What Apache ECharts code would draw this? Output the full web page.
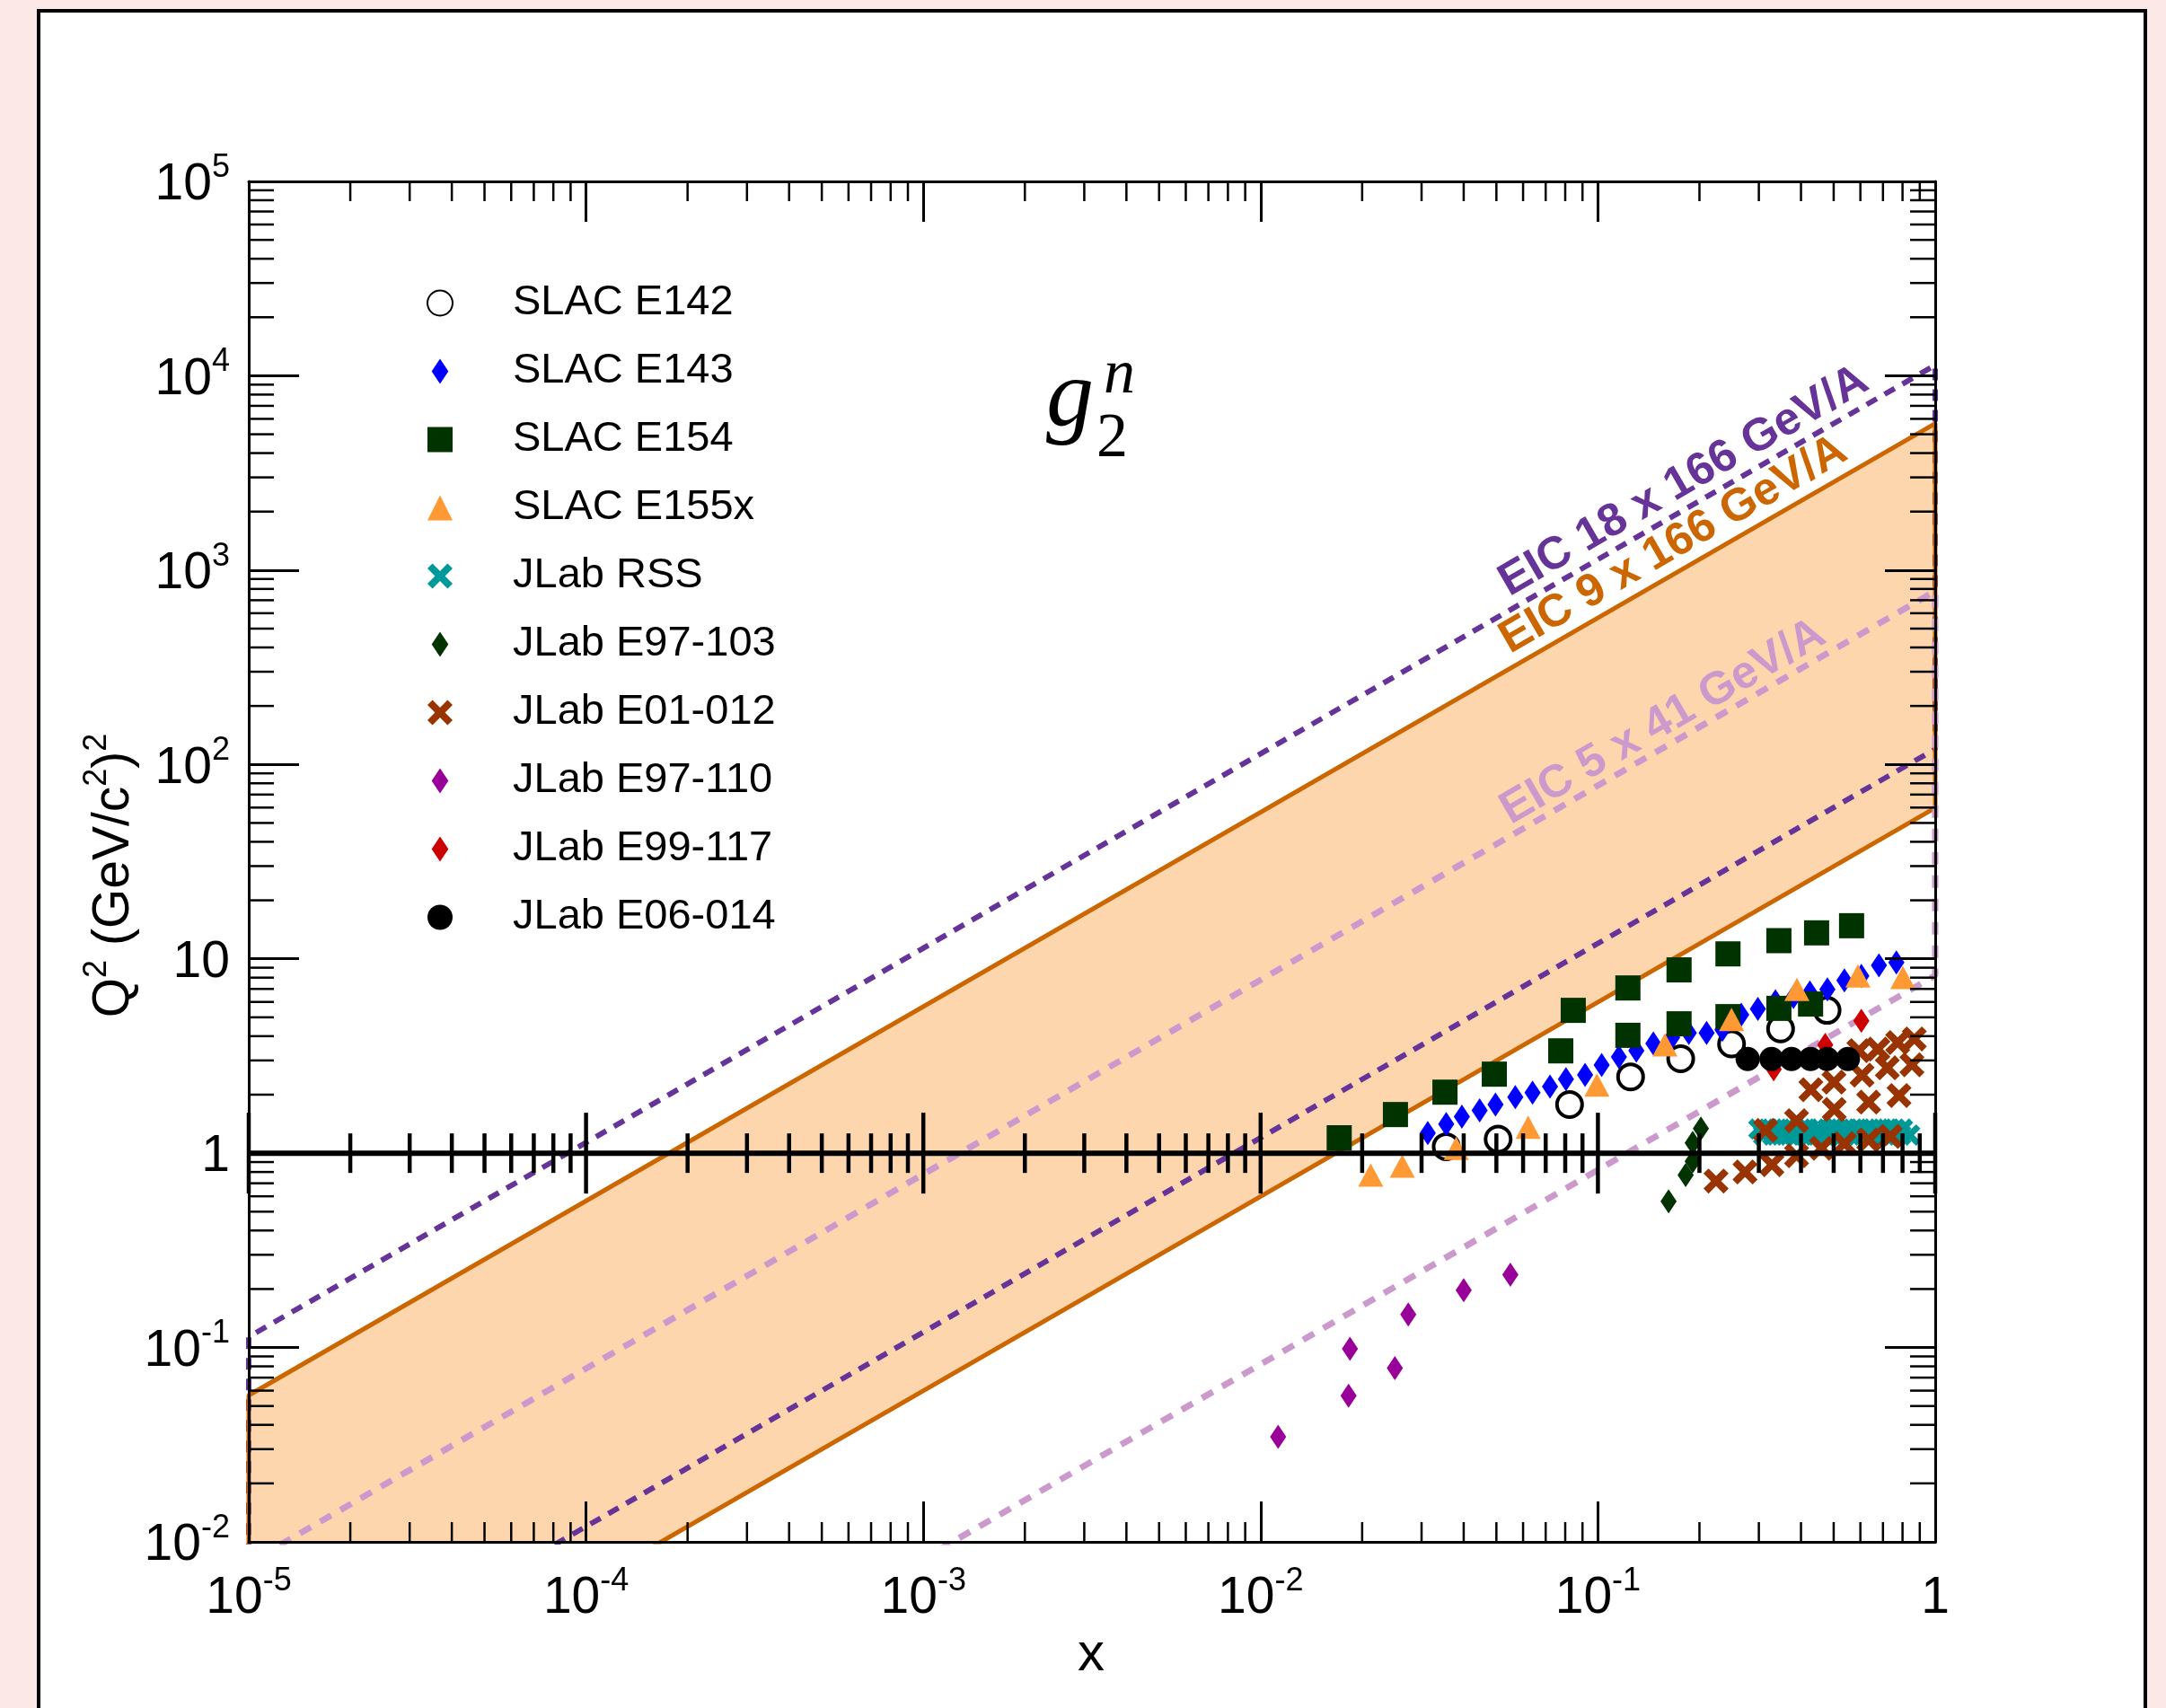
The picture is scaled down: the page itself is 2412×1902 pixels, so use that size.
<!DOCTYPE html>
<html>
<head>
<meta charset="utf-8">
<title>g2n world data vs EIC reach</title>
<script src="https://cdn.jsdelivr.net/npm/echarts@6/dist/echarts.min.js"></script>
<style>
  html, body { margin: 0; padding: 0; background: #fde8e8; }
  #chart { width: 2412px; height: 1902px; }
</style>
</head>
<body>
<div id="chart"></div>
<script>
// decade exponents for the tick labels
const xTickExps = [-5, -4, -3, -2, -1, 0];
const yTickExps = [-2, -1, 0, 1, 2, 3, 4, 5];
const minorMult = [2, 3, 4, 5, 6, 7, 8, 9];

// EIC kinematic reach, Q2 at x = 1e-5 and x = 1 (upper and lower edge)
const eicEdgeX = [1e-5, 1];
const eic18Hi = [0.1135, 11350];
const eic18Lo = [0.0012, 120];
const eic9Hi = [0.0568, 5680];
const eic9Lo = [0.0006, 59.8];
const eic5Hi = [0.0078, 779];
const eic5Lo = [0.000082, 8.2];
// where the rotated labels sit
const eicLabelX = [0.1797, 0.1675, 0.1560];
const eicLabelQ2 = [2861, 1345, 165];

// data sets
const e142X = [0.0355, 0.0506, 0.0824, 0.125, 0.176, 0.249, 0.348, 0.478];
const e142Q2 = [1.08, 1.18, 1.78, 2.47, 3.06, 3.65, 4.36, 5.43];

const e143X = [0.0313, 0.0355, 0.0395, 0.0446, 0.0497, 0.0569, 0.0640, 0.0721, 0.0804, 0.0916,
  0.1026, 0.1154, 0.130, 0.146, 0.166, 0.186, 0.210, 0.234, 0.266, 0.298,
  0.336, 0.380, 0.425, 0.479, 0.538, 0.604, 0.681, 0.767];
const e143Q2 = [1.27, 1.41, 1.54, 1.66, 1.78, 1.94, 2.05, 2.20, 2.40, 2.53,
  2.84, 3.13, 3.37, 3.67, 3.94, 4.16, 4.16, 4.31, 5.15, 5.53,
  6.04, 6.36, 6.71, 6.96, 7.75, 8.17, 9.25, 9.57];

const e154X = [0.0171, 0.0251, 0.0352, 0.0493, 0.0776, 0.0845, 0.1227, 0.1227, 0.174, 0.174,
  0.243, 0.243, 0.344, 0.344, 0.427, 0.445, 0.565];
const e154Q2 = [1.20, 1.58, 2.06, 2.55, 3.36, 5.43, 7.08, 4.04, 8.77, 4.63,
  10.6, 5.04, 12.4, 5.56, 5.85, 13.6, 14.8];

const e155xX = [0.0212, 0.0263, 0.038, 0.0621, 0.0993, 0.158, 0.249, 0.389, 0.590, 0.802];
const e155xQ2 = [0.772, 0.859, 1.06, 1.36, 2.24, 3.61, 4.88, 6.96, 8.17, 8.02];

const rssX = [0.30, 0.32, 0.34, 0.36, 0.38, 0.40, 0.42, 0.45, 0.48, 0.51, 0.54, 0.57, 0.60, 0.64, 0.68, 0.72, 0.76, 0.80,
  0.31, 0.33, 0.35, 0.37, 0.39, 0.41, 0.44, 0.47, 0.50, 0.53, 0.56, 0.59, 0.63, 0.67, 0.71, 0.75, 0.79, 0.84];
const rssQ2 = [1.33, 1.33, 1.33, 1.33, 1.33, 1.33, 1.33, 1.33, 1.33, 1.33, 1.33, 1.33, 1.33, 1.33, 1.33, 1.33, 1.33, 1.33,
  1.24, 1.24, 1.24, 1.24, 1.24, 1.24, 1.24, 1.24, 1.24, 1.24, 1.24, 1.24, 1.24, 1.24, 1.24, 1.24, 1.24, 1.24];

const e97103X = [0.202, 0.191, 0.191, 0.182, 0.162];
const e97103Q2 = [1.34, 1.13, 0.908, 0.772, 0.566];

const e01012X = [0.224, 0.273, 0.314, 0.328, 0.388, 0.388, 0.428, 0.460, 0.501, 0.502, 0.538,
  0.594, 0.607, 0.635, 0.635, 0.676, 0.721, 0.736, 0.774, 0.781, 0.853, 0.867];
const e01012Q2 = [0.719, 0.80, 1.31, 0.873, 1.47, 0.97, 2.12, 1.06, 2.32, 1.68, 1.12,
  3.37, 2.52, 1.83, 1.17, 3.43, 2.75, 1.22, 3.71, 1.98, 2.85, 3.87];

const e97110X = [0.01127, 0.01823, 0.0184, 0.0250, 0.0274, 0.040, 0.055];
const e97110Q2 = [0.0347, 0.0565, 0.0986, 0.0783, 0.148, 0.197, 0.237];

const e99117X = [0.604, 0.472, 0.332];
const e99117Q2 = [4.80, 3.61, 2.70];

const e06014X = [0.278, 0.327, 0.375, 0.427, 0.478, 0.551];
const e06014Q2 = [3.05, 3.05, 3.05, 3.05, 3.05, 3.05];

const FONT = '"Liberation Sans", Arial, Helvetica, sans-serif';
const SERIF = '"Liberation Serif", "Times New Roman", serif';
const CROSS = 'path://M0,2L2,0L5,3L8,0L10,2L7,5L10,8L8,10L5,7L2,10L0,8L3,5Z';
const DIAMOND = 'path://M5,0L10,7.5L5,15L0,7.5Z';

const chart = echarts.init(document.getElementById('chart'));

const pairs = (xs, ys) => xs.map((x, i) => [x, ys[i]]);
const outline = (hi, lo) => [
  [eicEdgeX[0], lo[0]], [eicEdgeX[0], hi[0]], [eicEdgeX[1], hi[1]], [eicEdgeX[1], lo[1]], [eicEdgeX[0], lo[0]]
];

const labelRich = {
  b: { fontFamily: FONT, fontSize: 57, lineHeight: 66, verticalAlign: 'bottom', color: '#000' },
  s: { fontFamily: FONT, fontSize: 36, lineHeight: 36, verticalAlign: 'top', color: '#000' }
};

function powerLabel(v, allowTen) {
  const e = Math.round(Math.log10(v));
  if (e === 0) return '{b|1}';
  if (e === 1 && allowTen) return '{b|10}';
  return '{b|10}{s|' + e + '}';
}

const markers = [
  { name: 'SLAC E142', xs: e142X, ys: e142Q2, symbol: 'circle', size: 28,
    style: { color: 'rgba(0,0,0,0)', borderColor: '#000', borderWidth: 4 } },
  { name: 'SLAC E143', xs: e143X, ys: e143Q2, symbol: DIAMOND, size: [18, 27], style: { color: '#0000ff' } },
  { name: 'SLAC E154', xs: e154X, ys: e154Q2, symbol: 'rect', size: 28, style: { color: '#003300' } },
  { name: 'SLAC E155x', xs: e155xX, ys: e155xQ2, symbol: 'triangle', size: [28, 26], style: { color: '#ff9933' } },
  { name: 'JLab RSS', xs: rssX, ys: rssQ2, symbol: CROSS, size: 24, style: { color: '#009999' } },
  { name: 'JLab E97-103', xs: e97103X, ys: e97103Q2, symbol: DIAMOND, size: [18, 27], style: { color: '#003300' } },
  { name: 'JLab E01-012', xs: e01012X, ys: e01012Q2, symbol: CROSS, size: 28, style: { color: '#993300' } },
  { name: 'JLab E97-110', xs: e97110X, ys: e97110Q2, symbol: DIAMOND, size: [18, 27], style: { color: '#990099' } },
  { name: 'JLab E99-117', xs: e99117X, ys: e99117Q2, symbol: DIAMOND, size: [18, 27], style: { color: '#cc0000' } },
  { name: 'JLab E06-014', xs: e06014X, ys: e06014Q2, symbol: 'circle', size: 27, style: { color: '#000' } }
];

const eicLines = [
  { name: 'EIC 18 x 166 GeV/A', hi: eic18Hi, lo: eic18Lo, color: '#663399', type: [13, 10], width: 6 },
  { name: 'EIC 9 x 166 GeV/A', hi: eic9Hi, lo: eic9Lo, color: '#cc6600', type: 'solid', width: 5 },
  { name: 'EIC 5 x 41 GeV/A', hi: eic5Hi, lo: eic5Lo, color: '#cc99cc', type: [14, 12], width: 7 }
];

const series = [];

// shaded reach of the 9 x 166 configuration
series.push({
  type: 'custom',
  name: 'band',
  coordinateSystem: 'cartesian2d',
  clip: true,
  silent: true,
  z: 1,
  data: [[eicEdgeX[0], 1]],
  renderItem: (params, api) => {
    const pts = outline(eic9Hi, eic9Lo).slice(0, 4).map(p => api.coord(p));
    return { type: 'polygon', shape: { points: pts }, style: { fill: '#fed6ad' } };
  }
});

eicLines.forEach((l, i) => {
  series.push({
    type: 'line',
    name: l.name,
    data: outline(l.hi, l.lo),
    symbol: 'none',
    silent: true,
    z: 2,
    lineStyle: { color: l.color, width: l.width, type: l.type, opacity: 1 },
    markPoint: {
      symbol: 'circle',
      symbolSize: 0,
      silent: true,
      data: [{ coord: [eicLabelX[i], eicLabelQ2[i]] }],
      label: {
        show: true,
        position: 'inside',
        formatter: l.name,
        rotate: 30,
        color: l.color,
        fontFamily: FONT,
        fontWeight: 'bold',
        fontSize: 51
      }
    }
  });
});

markers.forEach(m => {
  series.push({
    type: 'scatter',
    name: m.name,
    data: pairs(m.xs, m.ys),
    symbol: m.symbol,
    symbolSize: m.size,
    itemStyle: Object.assign({ opacity: 1 }, m.style),
    z: 3,
    emphasis: { disabled: true }
  });
});

// minor ticks on the frame plus the x axis drawn at Q2 = 1
series.push({
  type: 'custom',
  name: 'ticks',
  coordinateSystem: 'cartesian2d',
  clip: false,
  silent: true,
  z: 6,
  data: [[eicEdgeX[0], 1]],
  renderItem: (params, api) => {
    const cs = params.coordSys;
    const left = cs.x, right = cs.x + cs.width, top = cs.y, bottom = cs.y + cs.height;
    const kids = [];
    const thin = { stroke: '#000', lineWidth: 2.5 };
    const thick = { stroke: '#000', lineWidth: 4.5 };
    const yOne = api.coord([1, 1])[1];
    xTickExps.forEach(e => {
      const base = Math.pow(10, e);
      const px0 = api.coord([base, 1])[0];
      kids.push({ type: 'line', shape: { x1: px0, y1: yOne - 45, x2: px0, y2: yOne + 45 }, style: thick });
      if (e === 0) return;
      minorMult.forEach(k => {
        const px = api.coord([k * base, 1])[0];
        kids.push({ type: 'line', shape: { x1: px, y1: bottom, x2: px, y2: bottom - 22 }, style: thin });
        kids.push({ type: 'line', shape: { x1: px, y1: top, x2: px, y2: top + 22 }, style: thin });
        kids.push({ type: 'line', shape: { x1: px, y1: yOne - 22, x2: px, y2: yOne + 22 }, style: thick });
      });
    });
    yTickExps.forEach(e => {
      if (e === 5) return;
      const base = Math.pow(10, e);
      minorMult.forEach(k => {
        const py = api.coord([1, k * base])[1];
        kids.push({ type: 'line', shape: { x1: left, y1: py, x2: left + 28, y2: py }, style: thin });
        kids.push({ type: 'line', shape: { x1: right, y1: py, x2: right - 28, y2: py }, style: thin });
      });
    });
    kids.push({ type: 'line', shape: { x1: left, y1: yOne, x2: right, y2: yOne }, style: { stroke: '#000', lineWidth: 6 } });
    return { type: 'group', children: kids };
  }
});

const axisCommon = {
  type: 'log',
  logBase: 10,
  z: 5,
  axisLine: { show: true, onZero: false, lineStyle: { color: '#000', width: 3 } },
  minorTick: { show: false },
  splitLine: { show: false },
  minorSplitLine: { show: false }
};

const option = {
  animation: false,
  textStyle: { fontFamily: FONT },
  graphic: [
    { type: 'rect', z: -10, silent: true,
      shape: { x: 43, y: 12, width: 2346, height: 1930 },
      style: { fill: '#fff', stroke: '#000', lineWidth: 4 } },
    { type: 'text', z: 10, x: 1165, y: 445, silent: true,
      style: { text: 'g', font: 'italic 106px ' + SERIF, fill: '#000', verticalAlign: 'middle' } },
    { type: 'text', z: 10, x: 1221, y: 490, silent: true,
      style: { text: '2', font: '70px ' + SERIF, fill: '#000', verticalAlign: 'middle' } },
    { type: 'text', z: 10, x: 1229, y: 419, silent: true,
      style: { text: 'n', font: 'italic 70px ' + SERIF, fill: '#000', verticalAlign: 'middle' } },
    { type: 'text', z: 10, x: 123, y: 975, rotation: Math.PI / 2, silent: true,
      style: {
        text: '{a|Q}{s|2}{a| (GeV/c}{s|2}{a|)}{s|2}',
        align: 'center', verticalAlign: 'middle',
        rich: {
          a: { fontFamily: FONT, fontSize: 57, lineHeight: 66, verticalAlign: 'bottom', fill: '#000' },
          s: { fontFamily: FONT, fontSize: 36, lineHeight: 36, verticalAlign: 'top', fill: '#000' }
        }
      } },
    { type: 'text', z: 10, x: 1215, y: 1843, silent: true,
      style: { text: 'x', font: '60px ' + FONT, fill: '#000', align: 'center', verticalAlign: 'middle' } }
  ],
  grid: { left: 277, right: 257, top: 202, bottom: 185 },
  legend: {
    orient: 'vertical',
    left: 470,
    top: 309,
    itemWidth: 28,
    itemHeight: 28,
    itemGap: 29,
    selectedMode: false,
    data: markers.map(m => m.name),
    textStyle: { fontFamily: FONT, fontSize: 47, color: '#000', lineHeight: 28, padding: [0, 0, 0, 62] }
  },
  xAxis: [
    Object.assign({}, axisCommon, {
      position: 'bottom', min: 1e-5, max: 1, splitNumber: 5,
      axisTick: { show: true, inside: true, length: 45, lineStyle: { color: '#000', width: 3 } },
      axisLabel: { show: true, margin: 26, formatter: v => powerLabel(v, false), rich: labelRich }
    }),
    Object.assign({}, axisCommon, {
      position: 'top', min: 1e-5, max: 1, splitNumber: 5,
      axisTick: { show: true, inside: true, length: 45, lineStyle: { color: '#000', width: 3 } },
      axisLabel: { show: false }
    })
  ],
  yAxis: [
    Object.assign({}, axisCommon, {
      position: 'left', min: 1e-2, max: 1e5, splitNumber: 7,
      axisTick: { show: true, inside: true, length: 56, lineStyle: { color: '#000', width: 3 } },
      axisLabel: { show: true, margin: 21, formatter: v => powerLabel(v, true), rich: labelRich }
    }),
    Object.assign({}, axisCommon, {
      position: 'right', min: 1e-2, max: 1e5, splitNumber: 7,
      axisTick: { show: true, inside: true, length: 56, lineStyle: { color: '#000', width: 3 } },
      axisLabel: { show: false }
    })
  ],
  series: series
};

chart.setOption(option);
</script>
</body>
</html>
